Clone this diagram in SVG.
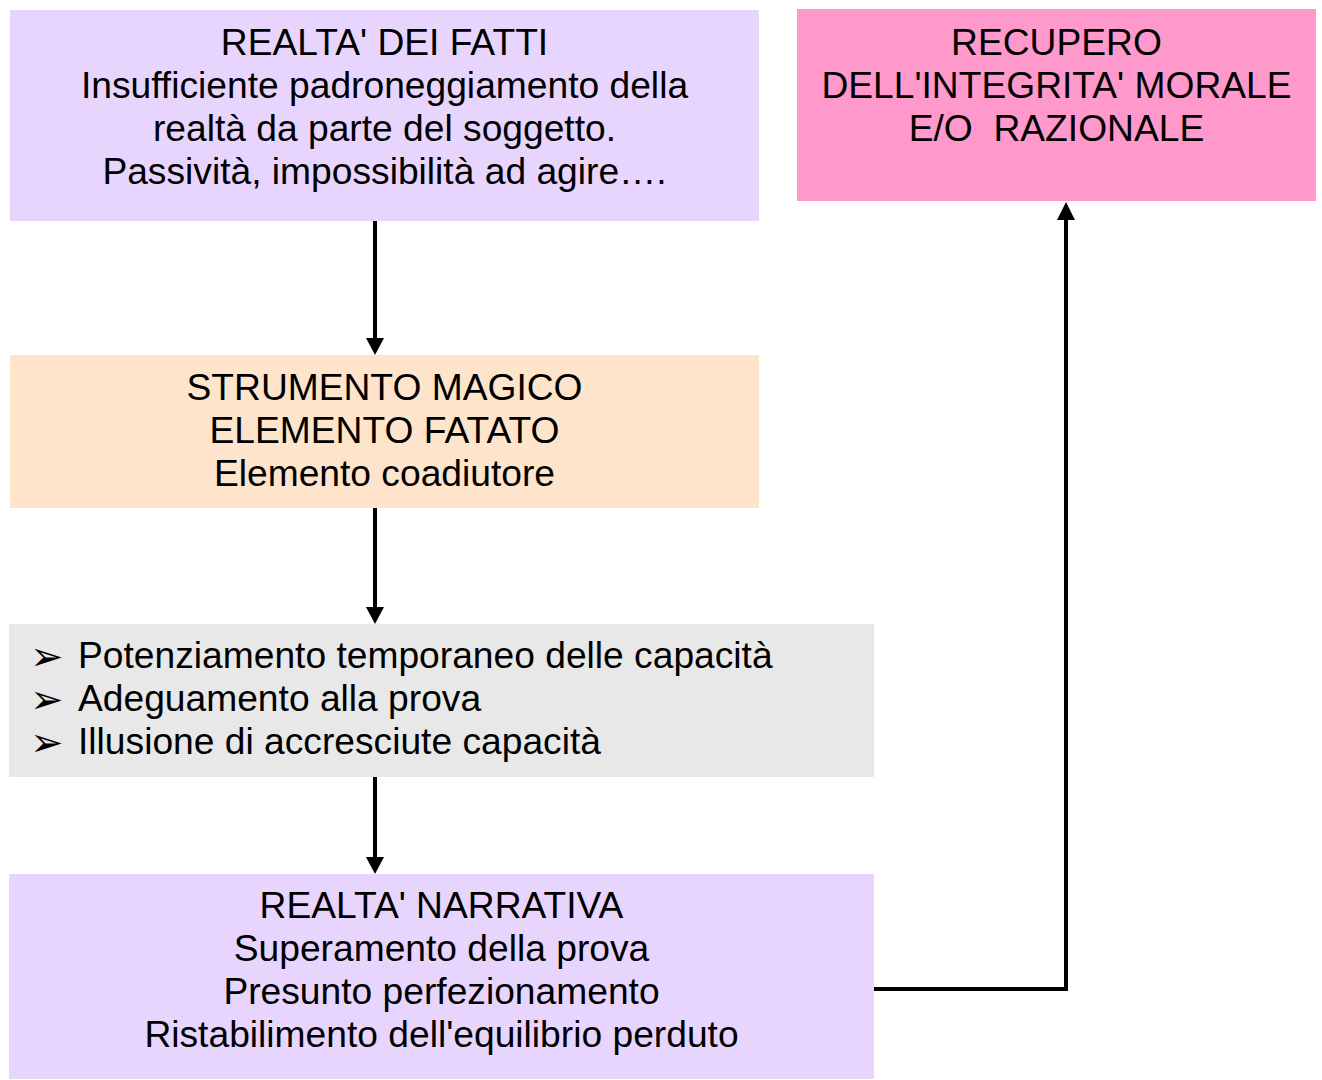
<svg xmlns="http://www.w3.org/2000/svg" width="1322" height="1080" viewBox="0 0 1322 1080">
<style>
text{font-family:"Liberation Sans",Arial,sans-serif;font-size:37.2px;fill:#000}
.c{text-anchor:middle}
.b{font-family:"DejaVu Sans",sans-serif;font-size:40px}
.ln{stroke:#000;stroke-width:4;fill:none}
.ah{fill:#000}
</style>
<rect width="1322" height="1080" fill="#fff"/>
<g id="n1">
<rect x="10" y="10" width="749" height="211" fill="#E8D5FE"/>
<text class="c" x="384.5" y="55">REALTA' DEI FATTI</text>
<text class="c" x="384.5" y="98">Insufficiente padroneggiamento della</text>
<text class="c" x="384.5" y="141">realtà da parte del soggetto.</text>
<text class="c" x="384.5" y="184">Passività, impossibilità ad agire….</text>
</g>
<g id="n2">
<rect x="797" y="9" width="519" height="192" fill="#FF99CC"/>
<text class="c" x="1056.5" y="55">RECUPERO</text>
<text class="c" x="1056.5" y="98">DELL'INTEGRITA' MORALE</text>
<text class="c" x="1056.5" y="141" xml:space="preserve">E/O  RAZIONALE</text>
</g>
<g id="n3">
<rect x="10" y="355" width="749" height="153" fill="#FFE4CC"/>
<text class="c" x="384.5" y="400">STRUMENTO MAGICO</text>
<text class="c" x="384.5" y="443">ELEMENTO FATATO</text>
<text class="c" x="384.5" y="486">Elemento coadiutore</text>
</g>
<g id="n4">
<rect x="9" y="624" width="865" height="153" fill="#E8E8E8"/>
<text class="b" x="30" y="670">➢</text>
<text class="b" x="30" y="713">➢</text>
<text class="b" x="30" y="756">➢</text>
<text x="78" y="668">Potenziamento temporaneo delle capacità</text>
<text x="78" y="711">Adeguamento alla prova</text>
<text x="78" y="754">Illusione di accresciute capacità</text>
</g>
<g id="n5">
<rect x="9" y="874" width="865" height="205" fill="#E8D5FE"/>
<text class="c" x="441.5" y="918">REALTA' NARRATIVA</text>
<text class="c" x="441.5" y="961">Superamento della prova</text>
<text class="c" x="441.5" y="1004">Presunto perfezionamento</text>
<text class="c" x="441.5" y="1047">Ristabilimento dell'equilibrio perduto</text>
</g>
<g id="connectors">
<path class="ln" d="M375,221 V340"/>
<polygon class="ah" points="366,338 384,338 375,355"/>
<path class="ln" d="M375,508 V609"/>
<polygon class="ah" points="366,607 384,607 375,624"/>
<path class="ln" d="M375,777 V859"/>
<polygon class="ah" points="366,857 384,857 375,874"/>
<path class="ln" d="M874,989 H1066 V217" stroke-width="5"/>
<polygon class="ah" points="1057,220 1075,220 1066,202"/>
</g>
</svg>
